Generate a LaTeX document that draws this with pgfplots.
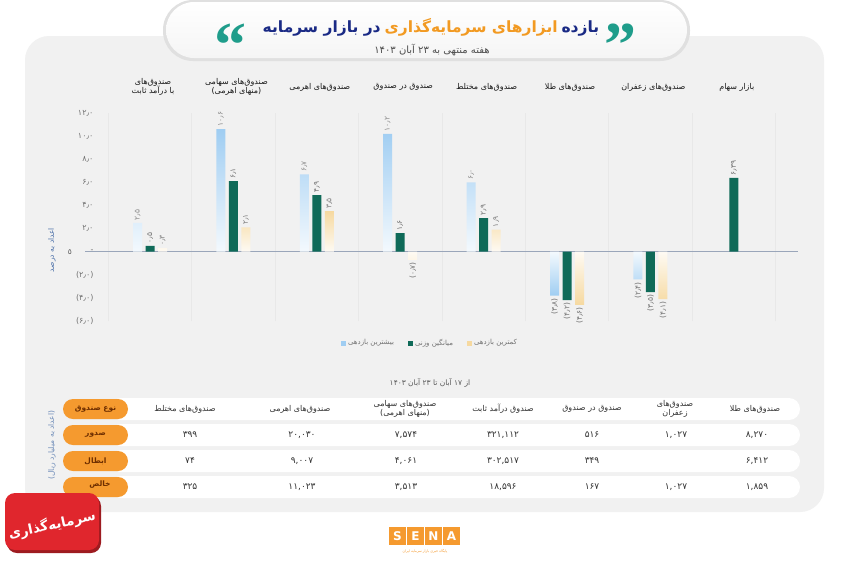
\documentclass[border=0pt]{standalone}
\usepackage{pgfplots}
\pgfplotsset{compat=1.18}
\usepackage{fontspec}
\setmainfont{DejaVu Sans}
\newfontfamily\fa[Script=Arabic]{DejaVu Sans}
\newfontfamily\qfont{Liberation Serif}
\TeXXeTstate=1
\definecolor{barblue}{HTML}{9FCDF2}
\definecolor{bargreen}{HTML}{0F6A58}
\definecolor{baryellow}{HTML}{F6D9A0}
\definecolor{titleblue}{HTML}{1A2A85}
\definecolor{titleorange}{HTML}{F29A22}
\definecolor{quoteteal}{HTML}{1F9D8B}
\definecolor{pillorange}{HTML}{F59A2F}
\definecolor{pilltext}{HTML}{6E2E00}
\definecolor{senared}{HTML}{E0262D}
\definecolor{axisblue}{HTML}{4A6FA8}
\definecolor{txt}{HTML}{333333}
\definecolor{cardgray}{HTML}{F1F1F1}
\begin{document}
\begin{tikzpicture}
\path[use as bounding box, clip] (0pt,0pt) rectangle (850pt,-560pt);
\begin{scope}[x=1pt,y=-1pt]
\fill[white] (0,0) rectangle (850,560);
% card
\fill[cardgray, rounded corners=24pt] (25,36) rectangle (824,512);
% title pill
\fill[black!12, rounded corners=30pt] (163,0) rectangle (690,61);
\shade[top color=white, bottom color=black!4, rounded corners=28pt] (166,2) rectangle (687,58);
\node[anchor=base, text=quoteteal, font=\qfont\bfseries\fontsize{64}{64}\selectfont, inner sep=0pt] at (230,66) {“};
\node[anchor=base, text=quoteteal, font=\qfont\bfseries\fontsize{64}{64}\selectfont, inner sep=0pt] at (620,66) {”};
\node[font=\fa\bfseries\fontsize{15.5}{18}\selectfont] at (431,27)
  {{\color{titleblue}\beginR در بازار سرمایه\endR}\hspace{0.25em}{\color{titleorange}\beginR ابزارهای سرمایه‌گذاری\endR}\hspace{0.25em}{\color{titleblue}\beginR بازده\endR}};
\node[font=\fa\fontsize{10}{12}\selectfont, text=black!70] at (432,50) {\beginR هفته منتهی به ۲۳ آبان ۱۴۰۳\endR};
% y axis title
\node[rotate=90, font=\fa\fontsize{7.5}{8}\selectfont, text=axisblue] at (52,250) {\beginR اعداد به درصد\endR};
\node[font=\fa\fontsize{7.5}{8}\selectfont, text=black!65] at (70,252) {٥};
% table
\node[font=\fa\fontsize{7.5}{8}\selectfont, text=black!65] at (430,383) {\beginR از ۱۷ آبان تا ۲۳ آبان ۱۴۰۳\endR};
\foreach \yy in {409,435,461,487} {
  \fill[white, rounded corners=11pt] (110,\yy-11) rectangle (800,\yy+11);
  \fill[pillorange, rounded corners=10pt] (63,\yy-10) rectangle (128,\yy+10);
}
\begin{scope}[every node/.style={font=\fa\bfseries\fontsize{7.5}{8}\selectfont, text=pilltext}]
\node at (95.5,409) {\beginR نوع صندوق\endR};
\node at (95.5,435) {\beginR صدور\endR};
\node at (95.5,461) {\beginR ابطال\endR};
\node at (100,485) {\beginR خالص\endR};
\end{scope}
\node[rotate=90, font=\fa\fontsize{7.5}{8}\selectfont, text=axisblue!80] at (52,445) {\beginR (اعداد به میلیارد ریال)\endR};
\begin{scope}[every node/.style={font=\fa\fontsize{8}{9}\selectfont, text=txt, align=center}]
\node at (185,409) {\beginR صندوق‌های مختلط\endR};
\node at (300,409) {\beginR صندوق‌های اهرمی\endR};
\node at (405,409) {\beginR صندوق‌های سهامی\endR\\\beginR (منهای اهرمی)\endR};
\node at (503,409) {\beginR صندوق درآمد ثابت\endR};
\node at (592,409) {\beginR صندوق در صندوق\endR};
\node at (675,409) {\beginR صندوق‌های\endR\\\beginR زعفران\endR};
\node at (755,409) {\beginR صندوق‌های طلا\endR};
\end{scope}
\begin{scope}[every node/.style={font=\fa\fontsize{9}{10}\selectfont, text=txt}]
\node at (190,435) {۳۹۹};
\node at (302,435) {۲۰,۰۳۰};
\node at (406,435) {۷,۵۷۴};
\node at (503,435) {۳۲۱,۱۱۲};
\node at (592,435) {۵۱۶};
\node at (676,435) {۱,۰۲۷};
\node at (757,435) {۸,۲۷۰};
\node at (190,461) {۷۴};
\node at (302,461) {۹,۰۰۷};
\node at (406,461) {۴,۰۶۱};
\node at (503,461) {۳۰۲,۵۱۷};
\node at (592,461) {۳۴۹};
\node at (757,461) {۶,۴۱۲};
\node at (190,487) {۳۲۵};
\node at (302,487) {۱۱,۰۲۳};
\node at (406,487) {۳,۵۱۳};
\node at (503,487) {۱۸,۵۹۶};
\node at (592,487) {۱۶۷};
\node at (676,487) {۱,۰۲۷};
\node at (757,487) {۱,۸۵۹};
\end{scope}
% SENA logo
\fill[white, rounded corners=22pt] (365,516) rectangle (487,580);
\foreach \i/\l in {0/S,1/E,2/N,3/A} {
  \fill[pillorange] (389+\i*18,527) rectangle (406+\i*18,545);
  \node[text=white, font=\bfseries\fontsize{12}{12}\selectfont] at (397.5+\i*18,536) {\l};
}
\node[text=pillorange, font=\fa\fontsize{3.5}{4}\selectfont] at (425,551) {\beginR پایگاه خبری بازار سرمایه ایران\endR};
% red logo
\fill[senared!70!black, rounded corners=10pt] (7,496) rectangle (101,553);
\fill[senared, rounded corners=10pt] (5,493) rectangle (99,550);
\node[text=white, font=\fa\bfseries\fontsize{13.5}{14}\selectfont, rotate=12, inner sep=0pt] at (52,525) {\beginR سرمایه‌گذاری\endR};
\end{scope}

\begin{axis}[
  at={(85pt,-321pt)}, anchor=south west,
  scale only axis, width=713pt, height=208pt,
  xmin=-0.78, xmax=7.77, ymin=-6, ymax=12,
  clip=false,
  axis line style={draw=none},
  major tick length=0pt,
  xtick={0,...,7},
  xticklabel pos=upper,
  xticklabels={{\beginR صندوق‌های\endR\\\beginR با درآمد ثابت\endR},{\beginR صندوق‌های سهامی\endR\\\beginR (منهای اهرمی)\endR},{\beginR صندوق‌های اهرمی\endR},{\beginR صندوق در صندوق\endR},{\beginR صندوق‌های مختلط\endR},{\beginR صندوق‌های طلا\endR},{\beginR صندوق‌های زعفران\endR},{\beginR بازار سهام\endR}},
  xticklabel style={font=\fa\fontsize{8}{9.5}\selectfont, align=center, text=black!90, anchor=center, yshift=26pt, xshift=3pt},
  ytick={-6,-4,-2,0,2,4,6,8,10,12},
  yticklabels={(۶٫۰),(۴٫۰),(۲٫۰),-,۲٫۰,۴٫۰,۶٫۰,۸٫۰,۱۰٫۰,۱۲٫۰},
  yticklabel style={font=\fa\fontsize{8}{9}\selectfont, text=black!55, anchor=east, xshift=12pt},
  extra x ticks={-0.5,0.5,1.5,2.5,3.5,4.5,5.5,6.5,7.5},
  extra x tick labels={},
  extra x tick style={grid=major, major grid style={black!9, line width=0.7pt}},
  point meta=explicit symbolic,
  every node near coord/.append style={font=\fa\fontsize{7.5}{8}\selectfont, inner sep=2.5pt},
  legend columns=3,
  legend style={at={(0.484,-0.106)}, anchor=center, draw=none, fill=none,
    font=\fa\fontsize{7}{8}\selectfont, text=black!55,
    /tikz/every even column/.append style={column sep=12pt}},
  legend image code/.code={\fill[#1] (0pt,-2.5pt) rectangle (5pt,2.5pt);},
]
\draw[black!30!axisblue!50, line width=0.7pt] (axis cs:-0.78,0) -- (axis cs:7.77,0);
% highest return, positive
\addplot[ybar, bar width=9pt, bar shift=-12.5pt, draw=none, top color=barblue, bottom color=barblue!12, forget plot,
  nodes near coords, nodes near coords align={right}, every node near coord/.append style={xshift=-12.5pt, rotate=90, text=black!45}]
  table[x=x, y=y, meta=l] {
x y l
0 2.5 ۲٫۵
1 10.6 ۱۰٫۶
2 6.7 ۶٫۷
3 10.2 ۱۰٫۲
4 6.0 ۶٫۰
};
% highest return, negative
\addplot[ybar, bar width=9pt, bar shift=-12.5pt, draw=none, top color=barblue!12, bottom color=barblue, forget plot,
  nodes near coords, nodes near coords align={left}, every node near coord/.append style={xshift=-12.5pt, rotate=90, text=black!55}]
  table[x=x, y=y, meta=l] {
x y l
5 -3.8 (۳٫۸)
6 -2.4 (۲٫۴)
};
% weighted average
\addplot[ybar, bar width=9pt, bar shift=0pt, draw=none, fill=bargreen, forget plot,
  nodes near coords, nodes near coords align={right}, every node near coord/.append style={rotate=90, text=black!55}]
  table[x=x, y=y, meta=l] {
x y l
0 0.5 ۰٫۵
1 6.1 ۶٫۱
2 4.9 ۴٫۹
3 1.6 ۱٫۶
4 2.9 ۲٫۹
7 6.39 ۶٫۳۹
};
\addplot[ybar, bar width=9pt, bar shift=0pt, draw=none, fill=bargreen, forget plot,
  nodes near coords, nodes near coords align={left}, every node near coord/.append style={rotate=90, text=black!55}]
  table[x=x, y=y, meta=l] {
x y l
5 -4.2 (۴٫۲)
6 -3.5 (۳٫۵)
};
% lowest return
\addplot[ybar, bar width=9pt, bar shift=12.5pt, draw=none, top color=baryellow, bottom color=baryellow!12, forget plot,
  nodes near coords, nodes near coords align={right}, every node near coord/.append style={xshift=12.5pt, rotate=90, text=black!50}]
  table[x=x, y=y, meta=l] {
x y l
0 0.3 ۰٫۳
1 2.1 ۲٫۱
2 3.5 ۳٫۵
4 1.9 ۱٫۹
};
\addplot[ybar, bar width=9pt, bar shift=12.5pt, draw=none, top color=baryellow!12, bottom color=baryellow, forget plot,
  nodes near coords, nodes near coords align={left}, every node near coord/.append style={xshift=12.5pt, rotate=90, text=black!55}]
  table[x=x, y=y, meta=l] {
x y l
3 -0.7 (۰٫۷)
5 -4.6 (۴٫۶)
6 -4.1 (۴٫۱)
};
\addlegendimage{fill=barblue, draw=none}
\addlegendentry{\beginR بیشترین بازدهی\endR}
\addlegendimage{fill=bargreen, draw=none}
\addlegendentry{\beginR میانگین وزنی\endR}
\addlegendimage{fill=baryellow, draw=none}
\addlegendentry{\beginR کمترین بازدهی\endR}
\end{axis}
\end{tikzpicture}
\end{document}
